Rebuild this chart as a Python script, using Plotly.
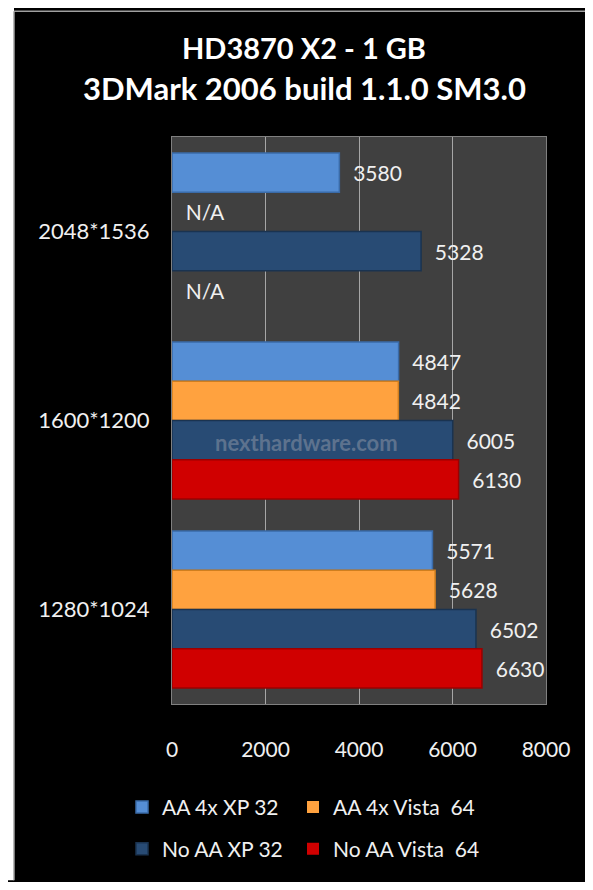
import plotly.graph_objects as go

resolutions = ["2048*1536", "1600*1200", "1280*1024"]
series_names = ["AA 4x XP 32", "AA 4x Vista  64", "No AA XP 32", "No AA Vista  64"]
aa4x_xp32 = [3580, 4847, 5571]
aa4x_vista64 = [None, 4842, 5628]
noaa_xp32 = [5328, 6005, 6502]
noaa_vista64 = [None, 6130, 6630]
x_ticks = [0, 2000, 4000, 6000, 8000]

colors = ["#558ED5", "#FFA23F", "#284B74", "#D00000"]
edges = ["#3A6BA8", "#D07E1E", "#1A3350", "#9A0000"]
legends = ["legend", "legend2", "legend3", "legend4"]

# page body has an 8px margin, so figure pixels = screen pixels - 8
W, H = 577, 874
L, R, T, B = 164, 39, 129, 163
pw, ph = W - L - R, H - T - B


def px_x(p):
    return (p - 8 - L) / pw


def px_y(p):
    return (H - B - (p - 8)) / ph


fig = go.Figure()
for name, vals, c, e, lg in zip(series_names,
                                [aa4x_xp32, aa4x_vista64, noaa_xp32, noaa_vista64],
                                colors, edges, legends):
    fig.add_trace(go.Bar(
        y=resolutions,
        x=[v if v is not None else 0 for v in vals],
        text=["  " + (str(v) if v is not None else "N/A") for v in vals],
        textposition="outside",
        cliponaxis=False,
        textfont=dict(color="#F0F0F0", size=21),
        orientation="h",
        name=name,
        legend=lg,
        showlegend=True,
        marker=dict(color=c,
                    line=dict(color=e, width=[1.5 if v is not None else 0 for v in vals])),
    ))


def leg(xp, yp):
    return dict(
        x=px_x(xp), y=px_y(yp),
        orientation="h",
        xanchor="left", yanchor="middle",
        font=dict(size=21, color="#F0F0F0"),
        itemwidth=30,
        bgcolor="rgba(0,0,0,0)",
    )


fig.update_layout(
    width=W, height=H,
    margin=dict(l=L, r=R, t=T, b=B),
    paper_bgcolor="black",
    plot_bgcolor="#404040",
    font=dict(family="Lato", size=21, color="#F0F0F0"),
    showlegend=True,
    barmode="group",
    bargap=0.17,
    bargroupgap=0,
    legend=leg(122, 825),
    legend2=leg(293, 825),
    legend3=leg(122, 868),
    legend4=leg(293, 868),
    xaxis=dict(
        range=[0, 8000],
        tickvals=x_ticks,
        showgrid=True, gridcolor="#A6A6A6", gridwidth=1,
        zeroline=False,
        showline=True, linecolor="#808080", mirror=True,
        ticks="outside", ticklen=27, tickcolor="black",
        tickfont=dict(size=21),
        fixedrange=True,
    ),
    yaxis=dict(
        autorange="reversed",
        showgrid=False,
        showline=True, linecolor="#808080", mirror=True,
        ticks="outside", ticklen=17, tickcolor="black",
        tickfont=dict(size=22),
        fixedrange=True,
    ),
    shapes=[
        dict(type="rect", xref="paper", yref="paper", layer="above",
             x0=px_x(0), x1=px_x(14), y0=px_y(900), y1=px_y(0),
             fillcolor="white", line=dict(width=0)),
        dict(type="line", xref="paper", yref="paper", layer="above",
             x0=px_x(14), x1=px_x(14), y0=px_y(900), y1=px_y(8),
             line=dict(color="#A0A0A0", width=1.5)),
        dict(type="line", xref="paper", yref="paper", layer="above",
             x0=px_x(14), x1=px_x(600), y0=px_y(8), y1=px_y(8),
             line=dict(color="#A0A0A0", width=1.5)),
    ],
    annotations=[
        dict(text="<b>HD3870 X2 - 1 GB</b>", xref="paper", yref="paper",
             x=px_x(304), y=px_y(45), xanchor="center", yanchor="middle",
             showarrow=False, font=dict(size=29, color="white")),
        dict(text="<b>3DMark 2006 build 1.1.0 SM3.0</b>", xref="paper", yref="paper",
             x=px_x(304), y=px_y(87), xanchor="center", yanchor="middle",
             showarrow=False, font=dict(size=31, color="white")),
        dict(text="<b>nexthardware.com</b>", xref="paper", yref="paper",
             x=px_x(306), y=px_y(451), xanchor="center", yanchor="middle",
             showarrow=False, font=dict(size=22, color="rgba(140,150,165,0.55)")),
    ],
)

fig.write_html("out.html")
